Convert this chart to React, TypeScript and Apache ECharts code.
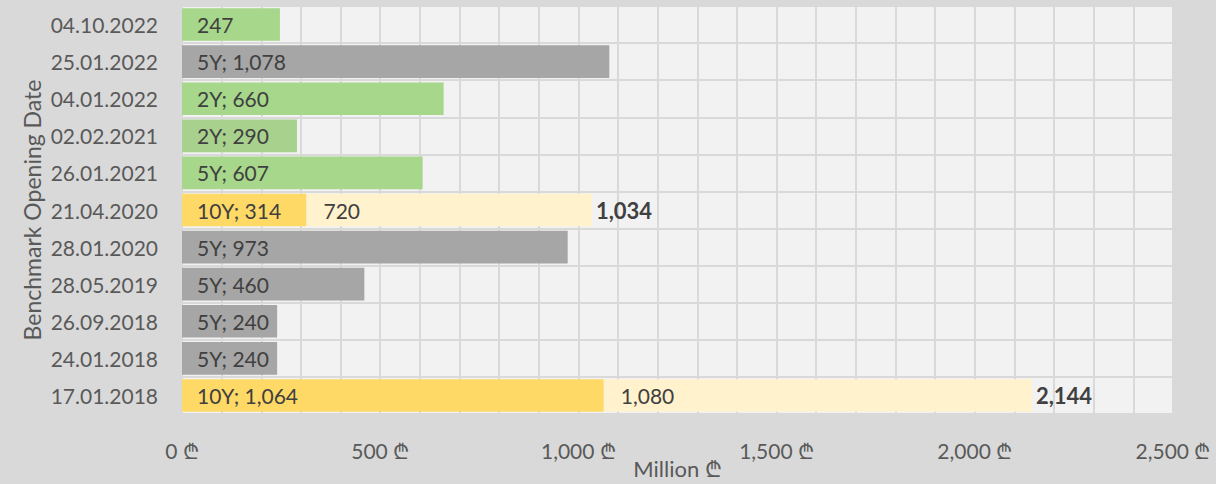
import React, { useEffect, useRef } from "react";
import * as echarts from "echarts";

const categories = [
  "04.10.2022",
  "25.01.2022",
  "04.01.2022",
  "02.02.2021",
  "26.01.2021",
  "21.04.2020",
  "28.01.2020",
  "28.05.2019",
  "26.09.2018",
  "24.01.2018",
  "17.01.2018",
];
const tenors = ["", "5Y", "2Y", "2Y", "5Y", "10Y", "5Y", "5Y", "5Y", "5Y", "10Y"];
const firstIssue = [247, 1078, 660, 290, 607, 314, 973, 460, 240, 240, 1064];
const reopening: (number | null)[] = [null, null, null, null, null, 720, null, null, null, null, 1080];
const barColors = [
  "#a6d78a",
  "#a6a6a6",
  "#a6d78a",
  "#a9d18e",
  "#a6d78a",
  "#ffd966",
  "#a6a6a6",
  "#a6a6a6",
  "#a6a6a6",
  "#a6a6a6",
  "#ffd966",
];
const xTicks = [0, 500, 1000, 1500, 2000, 2500];

const fmt = (v: number) => v.toLocaleString("en-US");
const FONT = "Lato";

export default function App() {
  const ref = useRef<HTMLDivElement>(null);
  useEffect(() => {
    const chart = echarts.init(ref.current!, null, { renderer: "svg" });
    const totals = firstIssue.map((v, i) => (reopening[i] != null ? v + (reopening[i] as number) : null));
    chart.setOption({
      animation: false,
      backgroundColor: "#d9d9d9",
      textStyle: { fontFamily: FONT },
      grid: {
        left: 182,
        right: 43,
        top: 6,
        bottom: 70,
        show: true,
        backgroundColor: "#f2f2f2",
        borderWidth: 0,
        containLabel: false,
        outerBoundsMode: "none",
      },
      xAxis: {
        type: "value",
        min: xTicks[0],
        max: xTicks[xTicks.length - 1],
        interval: 500,
        name: "Million ₾",
        nameLocation: "middle",
        nameGap: 43,
        nameMoveOverlap: false,
        nameTextStyle: { color: "#595959", fontSize: 22, fontFamily: FONT },
        axisLine: { show: false },
        axisTick: { show: false },
        axisLabel: {
          color: "#595959",
          fontSize: 21,
          fontFamily: FONT,
          margin: 26,
          formatter: (v: number) => fmt(v) + " ₾",
        },
        splitLine: { show: true, lineStyle: { color: "#d9d9d9", width: 2 } },
        minorTick: { show: false, splitNumber: 5 },
        minorSplitLine: { show: true, lineStyle: { color: "#d9d9d9", width: 2 } },
      },
      yAxis: {
        type: "category",
        data: categories,
        inverse: true,
        name: "Benchmark Opening Date",
        nameLocation: "middle",
        nameGap: 139,
        nameMoveOverlap: false,
        nameTextStyle: { color: "#595959", fontSize: 23, fontFamily: FONT },
        axisLine: { show: false },
        axisTick: { show: false },
        axisLabel: { color: "#595959", fontSize: 21, fontFamily: FONT, margin: 24 },
        splitLine: { show: true, lineStyle: { color: "#d9d9d9", width: 2 } },
      },
      series: [
        {
          type: "bar",
          stack: "t",
          barCategoryGap: "12%",
          data: firstIssue.map((v, i) => ({ value: v, itemStyle: { color: barColors[i] } })),
          label: {
            show: true,
            position: "insideLeft",
            distance: 15,
            color: "#404040",
            fontSize: 21,
            fontFamily: FONT,
            formatter: (p: any) => (tenors[p.dataIndex] ? tenors[p.dataIndex] + "; " : "") + fmt(p.value),
          },
        },
        {
          type: "bar",
          stack: "t",
          data: reopening.map((v) => (v == null ? "-" : v)),
          itemStyle: { color: "#fff2cc" },
          label: {
            show: true,
            position: "insideLeft",
            distance: 17,
            color: "#404040",
            fontSize: 21,
            fontFamily: FONT,
            formatter: (p: any) => fmt(p.value),
          },
        },
        {
          type: "bar",
          stack: "t",
          data: totals.map((v) => (v == null ? "-" : 0)),
          itemStyle: { color: "transparent" },
          label: {
            show: true,
            position: "right",
            distance: 4,
            color: "#404040",
            fontSize: 22,
            fontWeight: "bold",
            fontFamily: FONT,
            formatter: (p: any) => (totals[p.dataIndex] != null ? fmt(totals[p.dataIndex] as number) : ""),
          },
        },
      ],
    });
    return () => chart.dispose();
  }, []);
  return <div ref={ref} style={{ width: 1216, height: 484, position: "absolute", left: 0, top: 0 }} />;
}
